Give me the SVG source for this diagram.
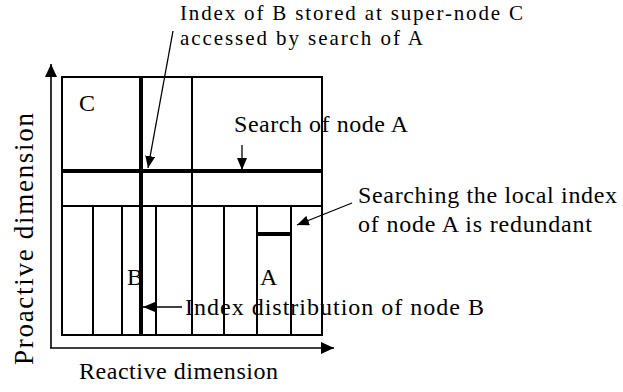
<svg xmlns="http://www.w3.org/2000/svg" width="623" height="392" viewBox="0 0 623 392">
<defs>
<style>
.thin{stroke:#000;stroke-width:2;fill:none}
.thick{stroke:#000;stroke-width:4;fill:none}
.ax{stroke:#000;stroke-width:1.6;fill:none}
.ann{stroke:#000;stroke-width:1.3;fill:none}
</style>
<marker id="ah" markerUnits="userSpaceOnUse" markerWidth="12" markerHeight="10" refX="12" refY="5" orient="auto">
<path d="M0,0 L12,5 L0,10 z" fill="#000"/>
</marker>
<marker id="axh" markerUnits="userSpaceOnUse" markerWidth="13" markerHeight="12" refX="13" refY="6" orient="auto">
<path d="M0,0 L13,6 L0,12 z" fill="#000"/>
</marker>
</defs>
<rect width="623" height="392" fill="#fff"/>
<g font-family="Liberation Serif, Times New Roman, DejaVu Serif, serif" font-size="24" fill="#000">
<g id="axes">
<line class="ax" x1="51" y1="348" x2="51" y2="64" marker-end="url(#axh)"/>
<line class="ax" x1="50" y1="348" x2="334" y2="348" marker-end="url(#axh)"/>
<text transform="rotate(-90)" x="-365" y="33" font-size="27" textLength="252" lengthAdjust="spacing">Proactive dimension</text>
<text x="79" y="379" textLength="199" lengthAdjust="spacing">Reactive dimension</text>
</g>
<g id="grid">
<rect class="thin" x="62" y="77" width="260" height="258"/>
<line class="thin" x1="192" y1="77" x2="192" y2="206"/>
<line class="thin" x1="62" y1="206" x2="322" y2="206"/>
<line class="thin" x1="93" y1="206" x2="93" y2="335"/>
<line class="thin" x1="122" y1="206" x2="122" y2="335"/>
<line class="thin" x1="156" y1="206" x2="156" y2="335"/>
<line class="thin" x1="192" y1="206" x2="192" y2="335"/>
<line class="thin" x1="224" y1="206" x2="224" y2="335"/>
<line class="thin" x1="257" y1="206" x2="257" y2="335"/>
<line class="thin" x1="291" y1="206" x2="291" y2="335"/>
</g>
<g id="nodeC"><text x="79" y="111">C</text></g>
<g id="nodeB"><text x="127" y="285">B</text></g>
<g id="nodeA"><text x="260" y="285">A</text></g>
<g id="searchPath">
<line class="thick" x1="62" y1="171" x2="322" y2="171"/>
</g>
<g id="indexDistribution">
<line class="thick" x1="141" y1="77" x2="141" y2="335"/>
</g>
<g id="localIndex">
<line class="thick" x1="257" y1="234" x2="291" y2="234"/>
</g>
<g id="labels">
<text x="180" y="20" font-size="21" textLength="343" lengthAdjust="spacing">Index of B stored at super-node C</text>
<text x="180" y="45" font-size="21" textLength="243" lengthAdjust="spacing">accessed by search of A</text>
<text x="234" y="132" textLength="174" lengthAdjust="spacing">Search of node A</text>
<text x="358" y="203" textLength="259" lengthAdjust="spacing">Searching the local index</text>
<text x="358" y="232" textLength="234" lengthAdjust="spacing">of node A is redundant</text>
<text x="185" y="315" textLength="299" lengthAdjust="spacing">Index distribution of node B</text>
</g>
<g id="connectors">
<line class="ann" x1="173" y1="31" x2="148" y2="168" marker-end="url(#ah)"/>
<line class="ann" x1="242" y1="145" x2="242" y2="170" marker-end="url(#ah)"/>
<line class="ann" x1="352" y1="203" x2="297" y2="225" marker-end="url(#ah)"/>
<line class="ann" x1="182" y1="307" x2="143" y2="307" marker-end="url(#ah)"/>
</g>
</g>
</svg>
